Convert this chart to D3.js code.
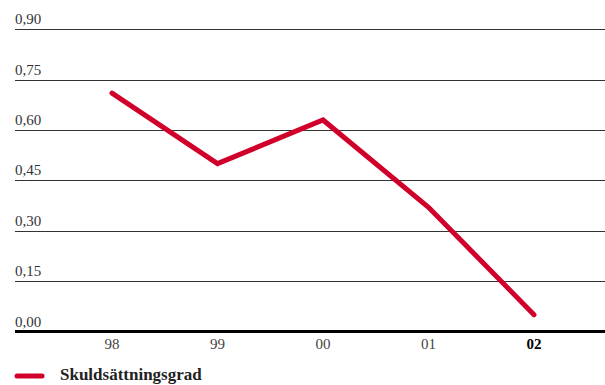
<!DOCTYPE html>
<html>
<head>
<meta charset="utf-8">
<script src="https://cdn.jsdelivr.net/npm/d3@7"></script>
<style>
  body { margin: 0; background: #fff; }
  svg text { font-family: "Liberation Serif", "Times New Roman", serif; }
</style>
</head>
<body>
<div id="chart"></div>
<script>
var years = ['98', '99', '00', '01', '02'];
var values = [0.71, 0.50, 0.63, 0.37, 0.05];
var yTicks = [0, 0.15, 0.30, 0.45, 0.60, 0.75, 0.90];
var seriesName = 'Skuldsättningsgrad';

var width = 605, height = 385;
var red = '#d0002a';

var svg = d3.select('#chart').append('svg')
  .attr('width', width)
  .attr('height', height);

var x = d3.scalePoint().domain(years).range([112, 534]);
var y = d3.scaleLinear().domain([0, 0.9]).range([331.5, 29.3]);

var fmt = function (v) { return d3.format('.2f')(v).replace('.', ','); };

// gridlines + labels
var grid = svg.append('g');
yTicks.forEach(function (t) {
  if (t === 0) return;
  grid.append('line')
    .attr('x1', 15).attr('x2', width)
    .attr('y1', Math.round(y(t)) + 0.5).attr('y2', Math.round(y(t)) + 0.5)
    .attr('stroke', '#333').attr('stroke-width', 1);
});
yTicks.forEach(function (t) {
  grid.append('text')
    .attr('x', 15).attr('y', y(t) - 5)
    .attr('font-size', 15).attr('fill', '#333')
    .text(fmt(t));
});

// base axis
svg.append('line')
  .attr('x1', 15).attr('x2', width)
  .attr('y1', y(0)).attr('y2', y(0))
  .attr('stroke', '#000').attr('stroke-width', 3);

// x labels
svg.append('g').selectAll('text').data(years).enter().append('text')
  .attr('x', function (d) { return x(d); })
  .attr('y', 349)
  .attr('text-anchor', 'middle')
  .attr('font-size', 15)
  .attr('font-weight', function (d, i) { return i === years.length - 1 ? 'bold' : 'normal'; })
  .attr('fill', function (d, i) { return i === years.length - 1 ? '#000' : '#444'; })
  .text(function (d) { return d; });

// line
var line = d3.line()
  .x(function (d, i) { return x(years[i]); })
  .y(function (d) { return y(d); });

svg.append('path')
  .datum(values)
  .attr('d', line)
  .attr('fill', 'none')
  .attr('stroke', red)
  .attr('stroke-width', 5)
  .attr('stroke-linecap', 'round')
  .attr('stroke-linejoin', 'miter');

// legend
svg.append('line')
  .attr('x1', 17).attr('x2', 42)
  .attr('y1', 376).attr('y2', 376)
  .attr('stroke', red).attr('stroke-width', 5)
  .attr('stroke-linecap', 'round');
svg.append('text')
  .attr('x', 60).attr('y', 380)
  .attr('font-size', 17).attr('font-weight', 'bold')
  .attr('fill', '#222')
  .text(seriesName);
</script>
</body>
</html>
